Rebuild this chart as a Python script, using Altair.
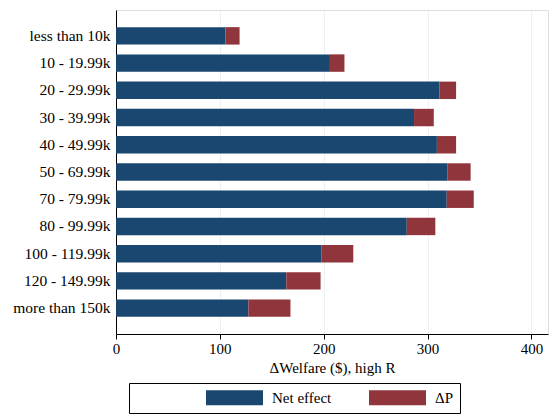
import altair as alt
import pandas as pd

categories = ["less than 10k", "10 - 19.99k", "20 - 29.99k", "30 - 39.99k",
              "40 - 49.99k", "50 - 69.99k", "70 - 79.99k", "80 - 99.99k",
              "100 - 119.99k", "120 - 149.99k", "more than 150k"]
net_effect = [105.5, 206, 311.5, 287, 309, 319, 318.5, 280, 198, 164, 127.5]
delta_p = [13.5, 14, 16, 19, 18.5, 22.5, 26, 27.5, 30.5, 33, 40.5]
series = ["Net effect", "\u0394P"]
colors = ["#1a476f", "#90353b"]
x_ticks = [0, 100, 200, 300, 400]

rows = []
for c, n, d in zip(categories, net_effect, delta_p):
    rows.append({"cat": c, "series": series[0], "value": n, "ord": 0})
    rows.append({"cat": c, "series": series[1], "value": d, "ord": 1})
df = pd.DataFrame(rows)

FONT = "Liberation Serif"
nbsp = "\u00a0"
pad_label = "\u0394P" + nbsp * 15

chart = alt.Chart(df).mark_bar().encode(
    y=alt.Y("cat:N", sort=categories, title=None,
            scale=alt.Scale(paddingInner=0.36, paddingOuter=0.63),
            axis=alt.Axis(ticks=False, labelPadding=6, labelFontSize=15.5, labelFont=FONT,
                          labelColor="#000", domainColor="#000", grid=False, labelLimit=200)),
    x=alt.X("value:Q", stack="zero", title="\u0394Welfare ($), high R",
            scale=alt.Scale(domain=[0, 416], nice=False),
            axis=alt.Axis(values=x_ticks, grid=True, gridColor="#eaf2f3", gridWidth=1,
                          domainColor="#000", tickColor="#000", tickSize=5,
                          labelFontSize=15, labelFont=FONT, labelColor="#000",
                          labelFlush=False, titleFont=FONT, titleFontSize=15,
                          titleFontWeight="normal", titleColor="#000", titlePadding=4)),
    color=alt.Color("series:N", scale=alt.Scale(domain=series, range=colors),
                    legend=alt.Legend(orient="none", legendX=13, legendY=373,
                                      direction="horizontal", title=nbsp,
                                      titleOrient="left", titlePadding=91,
                                      titleFontSize=12, padding=7,
                                      strokeColor="#000", fillColor="white",
                                      symbolType="M-3.8,-1H3.8V1H-3.8Z",
                                      symbolSize=225, symbolStrokeWidth=0,
                                      symbolOpacity=1,
                                      labelFont=FONT, labelFontSize=15, labelColor="#000",
                                      labelOffset=30, columnPadding=37,
                                      labelExpr=f"datum.label == '\u0394P' ? '{pad_label}' : datum.label")),
    order=alt.Order("ord:Q"),
).properties(
    width=432, height=324,
    autosize=alt.AutoSizeParams(type="none"),
    padding={"left": 116, "top": 10, "right": 1, "bottom": 81},
).configure_view(stroke=None).configure(background="white")

chart.save("out.html", embed_options={"renderer": "svg", "actions": False})
